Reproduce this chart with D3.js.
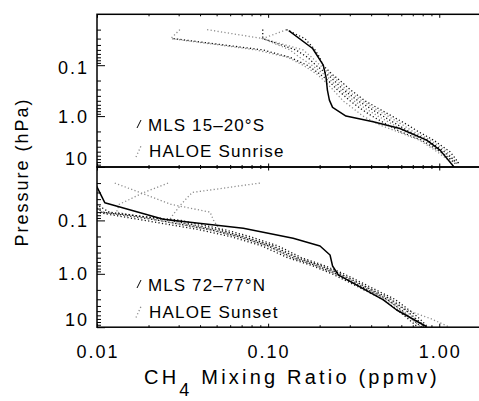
<!DOCTYPE html>
<html><head><meta charset="utf-8">
<script src="https://cdn.jsdelivr.net/npm/d3@7"></script>
<style>
html,body{margin:0;padding:0;background:#fff;}
svg{display:block;}
text{font-family:"Liberation Sans",Arial,Helvetica,sans-serif;fill:#000;}
</style></head><body>
<svg id="c" width="479" height="401"></svg>
<script>
// ---------- data ----------
const xTickValues = [0.01, 0.1, 1];
const xTickLabels = ["0.01", "0.10", "1.00"];
const yTickValues = [0.1, 1, 10];
const yTickLabels = ["0.1", "1.0", "10"];

// Top panel: MLS 15-20°S vs HALOE sunrise
const mlsSouthP = [0.021, 0.047, 0.1, 0.173, 0.308, 0.485, 0.675, 1.0, 1.29, 1.75, 2.96, 4.66, 10];
const mlsSouthV = [0.132, 0.182, 0.210, 0.218, 0.222, 0.228, 0.238, 0.285, 0.411, 0.589, 0.844, 1.01, 1.22];
const haloeSunriseP = [0.02, 0.03, 0.05, 0.07, 0.1, 0.15, 0.2, 0.3, 0.5, 0.7, 1, 1.5, 2, 3, 5, 7, 8.5];
const haloeSunrise1 = [null, 0.028, 0.093, 0.134, 0.169, 0.201, 0.224, 0.253, 0.301, 0.344, 0.405, 0.501, 0.589, 0.792, 1.01, 1.155, 1.236];
const haloeSunrise2 = [0.0305, 0.027, 0.085, 0.13, 0.160, 0.193, 0.212, 0.239, 0.274, 0.313, 0.358, 0.450, 0.566, 0.771, 0.970, 1.11, 1.19];
const haloeSunrise3 = [0.044, 0.093, 0.134, 0.153, 0.180, 0.212, 0.233, 0.263, 0.317, 0.368, 0.438, 0.544, 0.630, 0.825, 1.04, 1.17, 1.25];
const haloeSunrise4 = [0.093, 0.093, 0.145, 0.17, 0.190, 0.221, 0.243, 0.274, 0.335, 0.394, 0.469, 0.574, 0.665, 0.859, 1.07, 1.20, 1.27];
const haloeSunrise5 = [0.128, 0.093, 0.16, 0.18, 0.201, 0.230, 0.253, 0.285, 0.353, 0.416, 0.501, 0.614, 0.702, 0.894, 1.11, 1.20, 1.29];
const haloeSunrise6 = [0.128, 0.164, 0.188, 0.2, 0.209, 0.236, 0.263, 0.301, 0.368, 0.438, 0.529, 0.656, 0.751, 0.931, 1.155, 1.25, 1.30];

// Bottom panel: MLS 72-77°N vs HALOE sunset
const mlsNorthP = [0.0208, 0.0466, 0.0953, 0.1406, 0.216, 0.302, 0.444, 0.714, 1.05, 3.09, 4.76, 9.8];
const mlsNorthV = [0.0098, 0.0111, 0.0244, 0.0716, 0.140, 0.201, 0.230, 0.238, 0.257, 0.471, 0.564, 0.844];
const haloeSunsetP = [0.02, 0.03, 0.05, 0.07, 0.1, 0.15, 0.2, 0.3, 0.5, 0.7, 1, 1.5, 2, 3, 5, 7, 10];
const haloeSunset1 = [null, null, 0.0085, 0.0098, 0.019, 0.040, 0.060, 0.092, 0.130, 0.180, 0.236, 0.305, 0.363, 0.468, 0.58, 0.66, 0.75];
const haloeSunset2 = [null, null, 0.0092, 0.0108, 0.023, 0.046, 0.066, 0.100, 0.139, 0.190, 0.249, 0.320, 0.383, 0.494, 0.612, 0.692, 0.79];
const haloeSunset3 = [null, null, 0.0099, 0.0118, 0.027, 0.051, 0.072, 0.107, 0.149, 0.203, 0.264, 0.340, 0.405, 0.523, 0.649, 0.733, 0.838];
const haloeSunset4 = [null, null, null, 0.0105, 0.031, 0.056, 0.078, 0.114, 0.157, 0.213, 0.277, 0.357, 0.426, 0.55, 0.68, 0.77, 0.86];
const haloeSunset5 = [0.0127, 0.0178, 0.027, 0.0458, 0.048, 0.052, 0.070, 0.105, 0.147, 0.200, 0.260, 0.335, 0.400, 0.490, 0.670, 0.900, 1.15];
const haloeSunset6 = [0.026, 0.0188, 0.0135, 0.013, 0.023, 0.046, 0.066, 0.098, 0.137, 0.188, 0.245, 0.318, 0.38, 0.49, 0.605, 0.69, 0.78];
const haloeSunset7 = [0.0895, 0.036, 0.031, 0.0286, 0.0263, 0.048, 0.069, 0.103, 0.145, 0.198, 0.258, 0.333, 0.398, 0.512, 0.64, 0.72, 0.82];

// ---------- layout ----------
const svg = d3.select("#c");
const x = d3.scaleLog().domain([0.01, 1.73]).range([97, 480]);
const xMinor = [];
[0.01, 0.1, 1].forEach(d => { for (let k = 2; k <= 9; k++) { const v = d * k; if (v < 1.73) xMinor.push(v); } });
const yMinor = [];
[0.01, 0.1, 1].forEach(d => { for (let k = 2; k <= 9; k++) yMinor.push(d * k); });

const BLACK = "#111", GRAY = "#8c8c8c";
const panels = [
  { top: 14.3, bottom: 167, mlsP: mlsSouthP, mlsV: mlsSouthV, hP: haloeSunriseP,
    haloe: [[haloeSunrise2, GRAY], [haloeSunrise3, GRAY], [haloeSunrise5, GRAY], [haloeSunrise1, BLACK], [haloeSunrise4, BLACK], [haloeSunrise6, BLACK]],
    lab1: "MLS 15–20°S", lab2: "HALOE Sunrise", base1: 131, base2: 157, ylabOff: [3, 1, -8] },
  { top: 167, bottom: 327.2, mlsP: mlsNorthP, mlsV: mlsNorthV, hP: haloeSunsetP,
    haloe: [[haloeSunset5, GRAY], [haloeSunset6, GRAY], [haloeSunset7, GRAY], [haloeSunset1, BLACK], [haloeSunset2, BLACK], [haloeSunset3, BLACK], [haloeSunset4, BLACK]],
    lab1: "MLS 72–77°N", lab2: "HALOE Sunset", base1: 291, base2: 317.5, ylabOff: [1, 0, -7] }
];

panels.forEach((P, i) => {
  const y = d3.scaleLog().domain([0.01, 10]).range([P.top, P.bottom]);
  const clipId = "clip" + i;
  svg.append("clipPath").attr("id", clipId).append("rect")
    .attr("x", x(0.01)).attr("y", P.top).attr("width", x(1.73) - x(0.01)).attr("height", P.bottom - P.top);
  const g = svg.append("g").attr("clip-path", `url(#${clipId})`);
  const line = d3.line().defined(d => d.v != null).x(d => x(d.v)).y(d => y(d.p));

  P.haloe.forEach(([vals, col]) => {
    const data = P.hP.map((p, k) => ({ p, v: vals[k] }));
    g.append("path").attr("d", line(data)).attr("fill", "none")
      .attr("stroke", col).attr("stroke-width", 1.3).attr("stroke-dasharray", "1.2,2.3");
  });
  const mls = P.mlsP.map((p, k) => ({ p, v: P.mlsV[k] }));
  g.append("path").attr("d", line(mls)).attr("fill", "none")
    .attr("stroke", "#000").attr("stroke-width", 1.5).attr("stroke-linejoin", "round");

  // axes (ticks inward)
  const axG = svg.append("g");
  const style = s => { s.select(".domain").remove(); s.selectAll("line").attr("stroke", "#000").attr("stroke-width", 1); };
  axG.append("g").attr("transform", `translate(${x(0.01)},0)`)
    .call(d3.axisLeft(y).tickValues(yTickValues).tickSize(-8).tickFormat("")).call(style);
  axG.append("g").attr("transform", `translate(${x(0.01)},0)`)
    .call(d3.axisLeft(y).tickValues(yMinor).tickSize(-4).tickFormat("")).call(style);
  axG.append("g").attr("transform", `translate(0,${P.top})`)
    .call(d3.axisTop(x).tickValues(xTickValues).tickSize(-3.5).tickFormat("")).call(style);
  axG.append("g").attr("transform", `translate(0,${P.top})`)
    .call(d3.axisTop(x).tickValues(xMinor).tickSize(-2).tickFormat("")).call(style);
  axG.append("g").attr("transform", `translate(0,${P.bottom})`)
    .call(d3.axisBottom(x).tickValues(xTickValues).tickSize(-3.5).tickFormat("")).call(style);
  axG.append("g").attr("transform", `translate(0,${P.bottom})`)
    .call(d3.axisBottom(x).tickValues(xMinor).tickSize(-2).tickFormat("")).call(style);

  svg.append("rect").attr("x", x(0.01)).attr("y", P.top).attr("width", x(1.73) - x(0.01) + 2)
    .attr("height", P.bottom - P.top).attr("fill", "none").attr("stroke", "#000").attr("stroke-width", 1.5);

  // y tick labels
  yTickValues.forEach((v, k) => {
    svg.append("text").attr("x", 89).attr("y", y(v) + P.ylabOff[k])
      .attr("text-anchor", "end").attr("dominant-baseline", "central")
      .style("font-size", "18px").style("letter-spacing", "2px").text(yTickLabels[k]);
  });

  // legend
  const lx = x(0.01) + 40;
  svg.append("line").attr("x1", lx).attr("y1", P.base1 - 3).attr("x2", lx + 4).attr("y2", P.base1 - 11)
    .attr("stroke", "#000").attr("stroke-width", 1);
  svg.append("line").attr("x1", lx - 1).attr("y1", P.base2).attr("x2", lx + 4).attr("y2", P.base2 - 11)
    .attr("stroke", GRAY).attr("stroke-width", 1.3).attr("stroke-dasharray", "1.2,2.3");
  svg.append("text").attr("x", lx + 11).attr("y", P.base1).style("font-size", "17px").style("letter-spacing", "1.1px").text(P.lab1);
  svg.append("text").attr("x", lx + 12).attr("y", P.base2).style("font-size", "17px").style("letter-spacing", "1.2px").text(P.lab2);
});

// x tick labels
xTickValues.forEach((v, k) => {
  svg.append("text").attr("x", x(v) + 1).attr("y", 358).attr("text-anchor", "middle")
    .style("font-size", "18px").style("letter-spacing", "2px").text(xTickLabels[k]);
});

// axis titles
const xt = svg.append("text").attr("x", 292).attr("y", 384).attr("text-anchor", "middle")
  .style("font-size", "20px").style("letter-spacing", "3.2px");
xt.append("tspan").text("CH");
xt.append("tspan").attr("dy", 12).style("font-size", "18px").text("4");
xt.append("tspan").attr("dy", -12).text(" Mixing Ratio (ppmv)");

svg.append("text").attr("transform", "translate(28,172) rotate(-90)").attr("text-anchor", "middle")
  .style("font-size", "18px").style("letter-spacing", "2px").text("Pressure (hPa)");
</script>
</body></html>
